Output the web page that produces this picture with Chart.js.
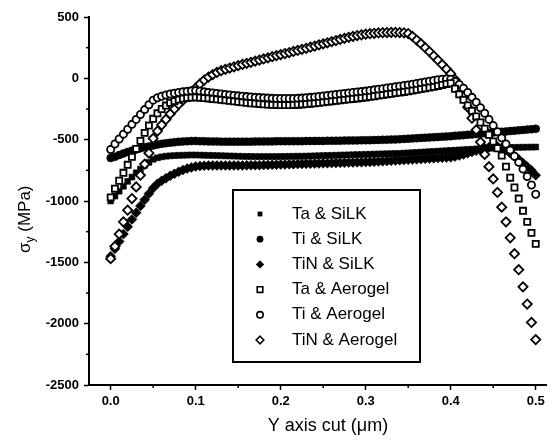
<!DOCTYPE html>
<html>
<head>
<meta charset="utf-8">
<script src="https://cdn.jsdelivr.net/npm/chart.js@4/dist/chart.umd.min.js"></script>
<style>
  html, body { margin: 0; padding: 0; background: #fff; }
  #wrap { width: 553px; height: 441px; position: relative; }
</style>
</head>
<body>
<div id="wrap"><canvas id="c" width="553" height="441"></canvas></div>
<script>
// ---- data ----
const xCut = [0,0.005,0.01,0.015,0.02,0.025,0.03,0.035,0.04,0.045,
  0.05,0.055,0.06,0.065,0.07,0.075,0.08,0.085,0.09,0.095,
  0.1,0.105,0.11,0.115,0.12,0.125,0.13,0.135,0.14,0.145,
  0.15,0.155,0.16,0.165,0.17,0.175,0.18,0.185,0.19,0.195,
  0.2,0.205,0.21,0.215,0.22,0.225,0.23,0.235,0.24,0.245,
  0.25,0.255,0.26,0.265,0.27,0.275,0.28,0.285,0.29,0.295,
  0.3,0.305,0.31,0.315,0.32,0.325,0.33,0.335,0.34,0.345,
  0.35,0.355,0.36,0.365,0.37,0.375,0.38,0.385,0.39,0.395,
  0.4,0.405,0.41,0.415,0.42,0.425,0.43,0.435,0.44,0.445,
  0.45,0.455,0.46,0.465,0.47,0.475,0.48,0.485,0.49,0.495,0.5];

const taSilk = [-1000,-960,-920,-880,-840,-805,-770,-740,-710,-685,
  -660,-648,-640,-635,-632,-630,-628,-627,-626,-625,
  -625,-626,-627,-628,-629,-630,-631,-632,-633,-634,
  -635,-636,-637,-637,-638,-638,-638,-638,-638,-638,
  -637,-637,-636,-636,-635,-635,-634,-633,-632,-631,
  -630,-629,-628,-627,-626,-625,-624,-623,-622,-621,
  -620,-619,-618,-617,-616,-615,-614,-613,-612,-610,
  -608,-606,-604,-602,-600,-598,-596,-594,-592,-590,
  -588,-586,-584,-582,-580,-578,-576,-574,-572,-570,
  -568,-567,-566,-565,-564,-563,-562,-562,-561,-561,-560];

const tiSilk = [-650,-640,-625,-612,-600,-590,-580,-570,-562,-555,
  -547,-540,-534,-529,-525,-521,-518,-515,-513,-511,
  -510,-512,-513,-514,-515,-515,-516,-516,-516,-516,
  -516,-516,-516,-516,-515,-515,-515,-514,-514,-513,
  -513,-513,-513,-512,-512,-512,-511,-511,-510,-510,
  -510,-509,-509,-508,-508,-507,-507,-506,-506,-505,
  -505,-504,-503,-502,-501,-500,-499,-498,-496,-494,
  -492,-490,-488,-486,-484,-482,-480,-478,-476,-474,
  -472,-469,-466,-463,-460,-457,-454,-451,-448,-445,
  -442,-439,-436,-433,-430,-427,-424,-421,-418,-415,-412];

const tinSilk = [-1450,-1390,-1330,-1270,-1210,-1150,-1095,-1040,-990,-940,
  -895,-860,-835,-815,-795,-778,-762,-748,-736,-726,
  -718,-714,-712,-711,-710,-710,-710,-710,-710,-710,
  -710,-710,-709,-709,-708,-708,-707,-706,-705,-704,
  -703,-702,-701,-700,-699,-698,-697,-696,-695,-694,
  -693,-692,-691,-690,-689,-688,-687,-686,-685,-684,
  -683,-682,-680,-678,-676,-674,-672,-670,-668,-666,
  -664,-662,-660,-658,-656,-654,-652,-650,-648,-646,
  -644,-638,-630,-620,-610,-600,-590,-580,-570,-562,
  -556,-555,-565,-585,-610,-635,-660,-690,-720,-750,-790];

const taAerogel = [-970,-900,-835,-770,-705,-640,-575,-510,-445,-385,
  -330,-285,-250,-222,-200,-185,-173,-165,-160,-157,
  -155,-158,-161,-164,-168,-172,-176,-180,-184,-188,
  -192,-196,-200,-203,-206,-209,-212,-214,-216,-217,
  -218,-218,-218,-217,-215,-213,-210,-207,-204,-200,
  -196,-192,-188,-184,-180,-176,-172,-168,-164,-160,
  -156,-151,-146,-141,-136,-131,-126,-121,-116,-111,
  -106,-100,-94,-88,-82,-76,-70,-62,-54,-46,
  -40,-85,-130,-175,-220,-265,-310,-360,-410,-460,
  -515,-570,-630,-720,-810,-890,-980,-1080,-1170,-1260,-1350];

const tiAerogel = [-580,-535,-495,-455,-415,-375,-335,-295,-255,-215,
  -178,-158,-146,-136,-128,-121,-115,-110,-106,-102,
  -100,-105,-110,-115,-120,-124,-128,-132,-136,-140,
  -143,-146,-149,-152,-155,-157,-159,-161,-163,-164,
  -165,-165,-165,-164,-163,-161,-158,-155,-152,-148,
  -144,-140,-136,-132,-128,-124,-120,-116,-112,-108,
  -104,-99,-94,-89,-84,-79,-74,-69,-64,-59,
  -54,-48,-42,-36,-30,-24,-18,-12,-8,-5,
  -8,-25,-50,-80,-115,-155,-195,-240,-285,-335,
  -385,-435,-485,-535,-585,-635,-685,-740,-800,-870,-945];

const tinAerogel = [-1470,-1370,-1270,-1170,-1075,-980,-885,-790,-700,-610,
  -490,-430,-380,-335,-290,-250,-212,-178,-145,-112,
  -80,-45,-15,10,30,48,62,74,84,94,
  104,113,122,131,140,149,158,167,176,185,
  193,202,210,219,227,236,245,254,263,272,
  281,290,299,308,317,326,334,342,349,355,
  360,364,367,370,372,373,374,374,373,371,
  365,342,312,282,250,217,183,148,112,76,
  38,-10,-75,-150,-235,-325,-420,-520,-620,-720,
  -820,-930,-1050,-1170,-1300,-1430,-1560,-1700,-1840,-1990,-2130];

const seriesNames = ['Ta & SiLK','Ti & SiLK','TiN & SiLK','Ta & Aerogel','Ti & Aerogel','TiN & Aerogel'];
const yTicks = [-2500,-2000,-1500,-1000,-500,0,500];
const xTicks = [0,0.1,0.2,0.3,0.4,0.5];
const yMinor = [-2250,-1750,-1250,-750,-250,250];
const xMinor = [0.05,0.15,0.25,0.35,0.45];

// ---- build ----
const seriesValues = [taSilk, tiSilk, tinSilk, taAerogel, tiAerogel, tinAerogel];
const styles = [
  {pointStyle:'rect', radius:4.2, fill:'#000', border:'#000', bw:0.5, order:2},
  {pointStyle:'circle', radius:4, fill:'#000', border:'#000', bw:0.5, order:2},
  {pointStyle:'rectRot', radius:5, fill:'#000', border:'#000', bw:0.5, order:2},
  {pointStyle:'rect', radius:4.3, fill:'#fff', border:'#000', bw:1.8, order:1},
  {pointStyle:'circle', radius:3.6, fill:'#fff', border:'#000', bw:1.8, order:1},
  {pointStyle:'rectRot', radius:4.6, fill:'#fff', border:'#000', bw:1.8, order:1}
];

const datasets = seriesValues.map((vals, k) => ({
  label: seriesNames[k],
  data: vals.map((v, i) => ({x: xCut[i], y: v})),
  showLine: false,
  pointStyle: styles[k].pointStyle,
  pointRadius: styles[k].radius,
  pointBackgroundColor: styles[k].fill,
  pointBorderColor: styles[k].border,
  pointBorderWidth: styles[k].bw,
  order: styles[k].order,
  clip: false
}));

const FONT = "'Liberation Sans', Arial, sans-serif";

const decorPlugin = {
  id: 'decor',
  afterDraw(chart) {
    const ctx = chart.ctx;
    const xs = chart.scales.x, ys = chart.scales.y;
    const area = chart.chartArea;
    ctx.save();
    // minor ticks
    ctx.strokeStyle = '#000';
    ctx.lineWidth = 1.5;
    yMinor.forEach(v => {
      const py = ys.getPixelForValue(v);
      ctx.beginPath(); ctx.moveTo(area.left - 3, py); ctx.lineTo(area.left, py); ctx.stroke();
    });
    xMinor.forEach(v => {
      const px = xs.getPixelForValue(v);
      ctx.beginPath(); ctx.moveTo(px, area.bottom); ctx.lineTo(px, area.bottom + 3); ctx.stroke();
    });
    // axis titles
    ctx.fillStyle = '#000';
    ctx.textAlign = 'center';
    ctx.textBaseline = 'alphabetic';
    ctx.font = '18px ' + FONT;
    ctx.fillText('Y axis cut (\u03bcm)', 328, 431);

    ctx.save();
    ctx.translate(30, 253);
    ctx.rotate(-Math.PI / 2);
    ctx.textAlign = 'left';
    ctx.font = '17px ' + FONT;
    ctx.fillText('\u03c3', 0, 0);
    let w = ctx.measureText('\u03c3').width;
    ctx.font = '12px ' + FONT;
    ctx.fillText('y', w, 4);
    w += ctx.measureText('y').width;
    ctx.font = '17px ' + FONT;
    ctx.fillText(' (MPa)', w, 0);
    ctx.restore();

    // legend
    const bx = 233, by = 190, bw = 187, bh = 172;
    ctx.fillStyle = '#fff';
    ctx.fillRect(bx, by, bw, bh);
    ctx.strokeStyle = '#000';
    ctx.lineWidth = 2;
    ctx.strokeRect(bx, by, bw, bh);
    const mx = 260, tx = 292, y0 = 214, dy = 25.2;
    ctx.font = '17px ' + FONT;
    ctx.textAlign = 'left';
    ctx.textBaseline = 'middle';
    seriesNames.forEach((name, k) => {
      const cy = y0 + k * dy;
      const st = styles[k];
      const filled = st.fill === '#000';
      ctx.beginPath();
      if (st.pointStyle === 'rect') {
        const s = filled ? 2.4 : 2.8;
        ctx.rect(mx - s, cy - s, 2 * s, 2 * s);
      } else if (st.pointStyle === 'circle') {
        ctx.arc(mx, cy, filled ? 3.4 : 3.2, 0, Math.PI * 2);
      } else {
        const r = filled ? 4.2 : 3.8;
        ctx.moveTo(mx, cy - r); ctx.lineTo(mx + r, cy); ctx.lineTo(mx, cy + r); ctx.lineTo(mx - r, cy); ctx.closePath();
      }
      if (filled) { ctx.fillStyle = '#000'; ctx.fill(); }
      else { ctx.fillStyle = '#fff'; ctx.fill(); ctx.lineWidth = 1.6; ctx.strokeStyle = '#000'; ctx.stroke(); }
      ctx.fillStyle = '#000';
      ctx.fillText(name, tx, cy);
    });
    ctx.restore();
  }
};

new Chart(document.getElementById('c'), {
  type: 'scatter',
  data: { datasets },
  options: {
    responsive: false,
    animation: false,
    devicePixelRatio: 1,
    layout: { padding: { top: 17, right: 0, left: 0, bottom: 0 } },
    plugins: { legend: { display: false }, tooltip: { enabled: false } },
    scales: {
      x: {
        type: 'linear',
        min: -0.0255,
        max: 0.5128,
        afterFit(s) { s.height = 56; },
        afterBuildTicks(s) { s.ticks = xTicks.map(v => ({value: v})); },
        ticks: {
          color: '#000',
          font: { family: FONT, size: 13, weight: 'bold' },
          padding: 4,
          maxRotation: 0,
          callback: v => Number(v).toFixed(1)
        },
        grid: { drawOnChartArea: false, drawTicks: true, tickLength: 5, tickColor: '#000', tickWidth: 1.5 },
        border: { display: true, color: '#000', width: 2 }
      },
      y: {
        type: 'linear',
        min: -2500,
        max: 500,
        afterFit(s) { s.width = 89; },
        afterBuildTicks(s) { s.ticks = yTicks.map(v => ({value: v})); },
        ticks: {
          color: '#000',
          font: { family: FONT, size: 13, weight: 'bold' },
          padding: 5,
          callback: v => String(v)
        },
        grid: { drawOnChartArea: false, drawTicks: true, tickLength: 5, tickColor: '#000', tickWidth: 1.5 },
        border: { display: true, color: '#000', width: 2 }
      }
    }
  },
  plugins: [decorPlugin]
});
</script>
</body>
</html>
